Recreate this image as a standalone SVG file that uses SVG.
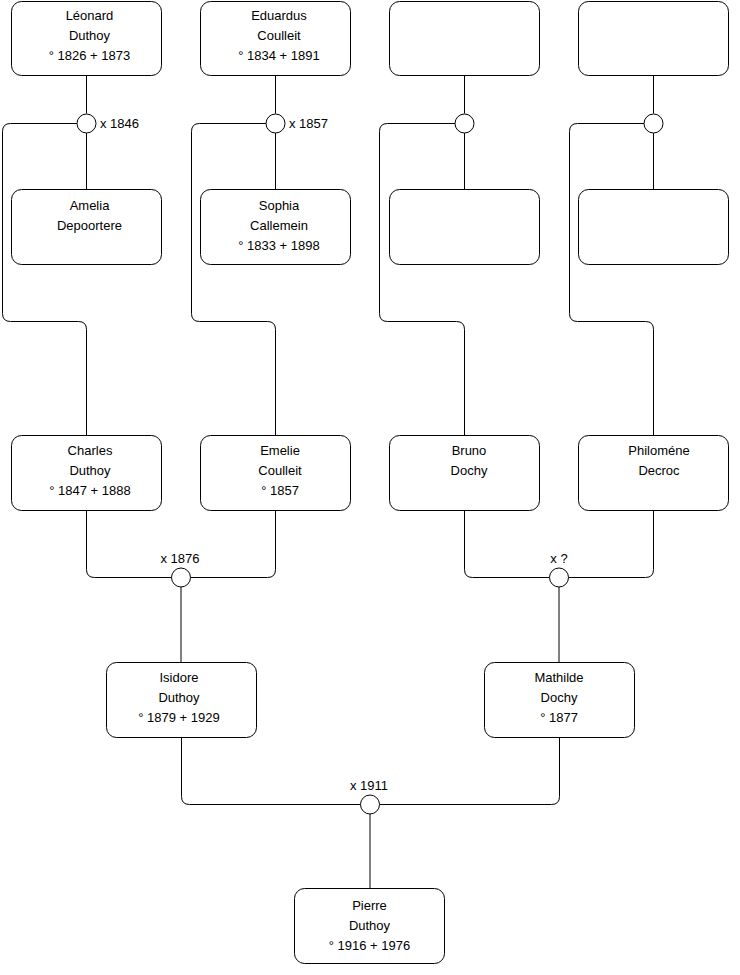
<svg xmlns="http://www.w3.org/2000/svg" width="740" height="975" viewBox="0 0 740 975">
<style>
.box{fill:#fff;stroke:#000;stroke-width:1}
.c{fill:#fff;stroke:#000;stroke-width:1}
.ln{fill:none;stroke:#000;stroke-width:1}
text{font-family:"Liberation Sans",Arial,Helvetica,sans-serif;font-size:13px;fill:#000}
.m{text-anchor:middle}
</style>
<rect width="740" height="975" fill="#fff"/>
<g id="connectors">
<path class="ln" d="M86.5,75.5 V113.5 M86.5,133 V189.5 M77,123.5 H10.5 Q2.5,123.5 2.5,131.5 V313.5 Q2.5,321.5 10.5,321.5 H78.5 Q86.5,321.5 86.5,329.5 V435.5"/>
<path class="ln" d="M275.5,75.5 V113.5 M275.5,133 V189.5 M266,123.5 H199.5 Q191.5,123.5 191.5,131.5 V313.5 Q191.5,321.5 199.5,321.5 H267.5 Q275.5,321.5 275.5,329.5 V435.5"/>
<path class="ln" d="M464.5,75.5 V113.5 M464.5,133 V189.5 M455,123.5 H387.5 Q379.5,123.5 379.5,131.5 V313.5 Q379.5,321.5 387.5,321.5 H456.5 Q464.5,321.5 464.5,329.5 V435.5"/>
<path class="ln" d="M653.5,75.5 V113.5 M653.5,133 V189.5 M644,123.5 H577.5 Q569.5,123.5 569.5,131.5 V313.5 Q569.5,321.5 577.5,321.5 H645.5 Q653.5,321.5 653.5,329.5 V435.5"/>
<path class="ln" d="M86.5,510.5 V569.5 Q86.5,577.5 94.5,577.5 H171.5 M275.5,510.5 V569.5 Q275.5,577.5 267.5,577.5 H190.5 M181,587 V662.5"/>
<path class="ln" d="M464.5,510.5 V569.5 Q464.5,577.5 472.5,577.5 H549.5 M653.5,510.5 V569.5 Q653.5,577.5 645.5,577.5 H568.5 M559,587 V662.5"/>
<path class="ln" d="M181.5,737.5 V796.5 Q181.5,804.5 189.5,804.5 H360.5 M559.5,737.5 V796.5 Q559.5,804.5 551.5,804.5 H379.5 M370,814 V888.5"/>
</g>
<g id="m1846"><circle class="c" cx="86.5" cy="123.5" r="9.5"/><text x="100" y="128">x 1846</text></g>
<g id="m1857"><circle class="c" cx="275.5" cy="123.5" r="9.5"/><text x="289" y="128">x 1857</text></g>
<g id="m3"><circle class="c" cx="464.5" cy="123.5" r="9.5"/></g>
<g id="m4"><circle class="c" cx="653.5" cy="123.5" r="9.5"/></g>
<g id="m1876"><circle class="c" cx="181" cy="577.5" r="9.5"/><text class="m" x="180" y="563">x 1876</text></g>
<g id="mq"><circle class="c" cx="559" cy="577.5" r="9.5"/><text class="m" x="559" y="563">x ?</text></g>
<g id="m1911"><circle class="c" cx="370" cy="804.5" r="9.5"/><text class="m" x="369" y="790">x 1911</text></g>
<g id="leonard"><rect class="box" x="11.5" y="1.5" width="150" height="74" rx="10"/><text class="m" x="89.5" y="20">Léonard</text><text class="m" x="89.5" y="40">Duthoy</text><text class="m" x="89.5" y="60">° 1826 + 1873</text></g>
<g id="eduardus"><rect class="box" x="200.5" y="1.5" width="150" height="74" rx="10"/><text class="m" x="279" y="20">Eduardus</text><text class="m" x="279" y="40">Coulleit</text><text class="m" x="279" y="60">° 1834 + 1891</text></g>
<g id="empty1"><rect class="box" x="389.5" y="1.5" width="150" height="74" rx="10"/></g>
<g id="empty2"><rect class="box" x="578.5" y="1.5" width="150" height="74" rx="10"/></g>
<g id="amelia"><rect class="box" x="11.5" y="189.5" width="150" height="75" rx="10"/><text class="m" x="89.5" y="210">Amelia</text><text class="m" x="89.5" y="230">Depoortere</text></g>
<g id="sophia"><rect class="box" x="200.5" y="189.5" width="150" height="75" rx="10"/><text class="m" x="279" y="210">Sophia</text><text class="m" x="279" y="230">Callemein</text><text class="m" x="279" y="250">° 1833 + 1898</text></g>
<g id="empty3"><rect class="box" x="389.5" y="189.5" width="150" height="75" rx="10"/></g>
<g id="empty4"><rect class="box" x="578.5" y="189.5" width="150" height="75" rx="10"/></g>
<g id="charles"><rect class="box" x="11.5" y="435.5" width="150" height="75" rx="10"/><text class="m" x="90" y="455">Charles</text><text class="m" x="90" y="475">Duthoy</text><text class="m" x="90" y="495">° 1847 + 1888</text></g>
<g id="emelie"><rect class="box" x="200.5" y="435.5" width="150" height="75" rx="10"/><text class="m" x="280" y="455">Emelie</text><text class="m" x="280" y="475">Coulleit</text><text class="m" x="280" y="495">° 1857</text></g>
<g id="bruno"><rect class="box" x="389.5" y="435.5" width="150" height="75" rx="10"/><text class="m" x="469" y="455">Bruno</text><text class="m" x="469" y="475">Dochy</text></g>
<g id="philomene"><rect class="box" x="578.5" y="435.5" width="150" height="75" rx="10"/><text class="m" x="659" y="455">Philoméne</text><text class="m" x="659" y="475">Decroc</text></g>
<g id="isidore"><rect class="box" x="106.5" y="662.5" width="150" height="75" rx="10"/><text class="m" x="179" y="682">Isidore</text><text class="m" x="179" y="702">Duthoy</text><text class="m" x="179" y="722">° 1879 + 1929</text></g>
<g id="mathilde"><rect class="box" x="484.5" y="662.5" width="150" height="75" rx="10"/><text class="m" x="559" y="682">Mathilde</text><text class="m" x="559" y="702">Dochy</text><text class="m" x="559" y="722">° 1877</text></g>
<g id="pierre"><rect class="box" x="294.5" y="888.5" width="150" height="75" rx="10"/><text class="m" x="369.5" y="910">Pierre</text><text class="m" x="369.5" y="930">Duthoy</text><text class="m" x="369.5" y="950">° 1916 + 1976</text></g>
</svg>
